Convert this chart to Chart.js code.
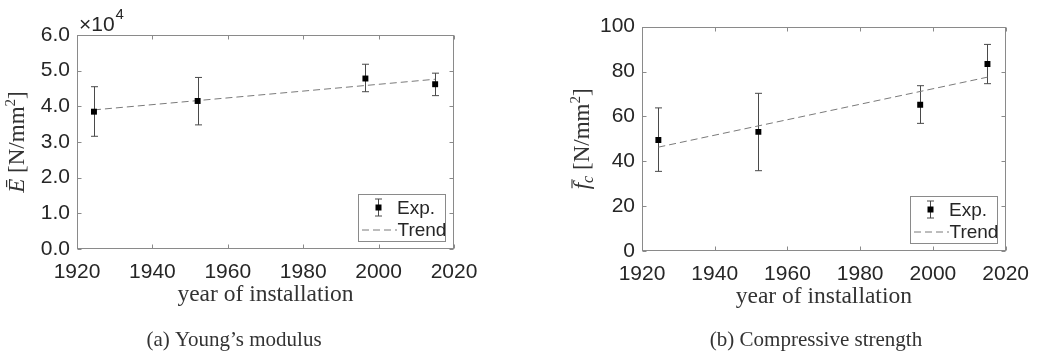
<!DOCTYPE html>
<html><head><meta charset="utf-8">
<script src="https://cdn.jsdelivr.net/npm/chart.js@4.4.1/dist/chart.umd.min.js"></script>
<style>
html,body{margin:0;padding:0;background:#fff;}
#wrap{position:relative;width:1040px;height:357px;overflow:hidden;background:#fff;}
canvas{position:absolute;top:0;}
</style></head><body>
<div id="wrap">
<canvas id="cA" width="520" height="357" style="left:0;width:520px;height:357px"></canvas>
<canvas id="cB" width="520" height="357" style="left:520px;width:520px;height:357px"></canvas>
</div>
<script>
// ---- data ----
const years = [1924.5, 1952, 1996.5, 2015];
const trendYears = [1924.5, 2015];
const xTicks = [1920, 1940, 1960, 1980, 2000, 2020];

const modulusMean = [38500, 41500, 47800, 46200];
const modulusLow = [31600, 34800, 44100, 43000];
const modulusHigh = [45500, 48100, 51800, 49300];
const modulusTrend = [39000, 47600];
const modulusTicks = [0, 10000, 20000, 30000, 40000, 50000, 60000];

const strengthMean = [49.5, 53.1, 65.2, 83.4];
const strengthLow = [35.5, 35.8, 56.9, 74.6];
const strengthHigh = [63.8, 70.3, 73.7, 92.1];
const strengthTrend = [46.3, 77.5];
const strengthTicks = [0, 20, 40, 60, 80, 100];

const legendLabels = ['Exp.', 'Trend'];
const xTitle = 'year of installation';
const captions = ['(a) Young\u2019s modulus', '(b) Compressive strength'];

// ---- styles ----
const SANS = '"Liberation Sans", Arial, sans-serif';
const SERIF = '"Liberation Serif", "Times New Roman", serif';
const TXT = '#262626';
const AXIS = '#8a8a8a';

function richText(ctx, segs, cx, cy, rot) {
  ctx.save();
  ctx.translate(cx, cy);
  if (rot) ctx.rotate(-Math.PI / 2);
  ctx.textAlign = 'left';
  ctx.textBaseline = 'alphabetic';
  let total = 0;
  segs.forEach(s => { ctx.font = s.font; s.w = ctx.measureText(s.t).width; total += s.w + (s.dx || 0); });
  let x0 = -total / 2;
  segs.forEach(s => {
    ctx.font = s.font;
    x0 += (s.dx || 0);
    ctx.fillText(s.t, x0, s.dy || 0);
    if (s.bar) {
      ctx.save();
      ctx.lineWidth = 1.1;
      ctx.strokeStyle = ctx.fillStyle;
      ctx.beginPath();
      ctx.moveTo(x0 + s.bar[0], s.bar[2]);
      ctx.lineTo(x0 + s.bar[1], s.bar[2]);
      ctx.stroke();
      ctx.restore();
    }
    x0 += s.w;
  });
  ctx.restore();
}

function makeChart(canvasId, cfg) {
  const W = 520, H = 357, XH = 40;
  const a = cfg.area;
  const decor = {
    id: 'decor',
    beforeDatasetsDraw(chart) {
      const { ctx, scales: { x, y } } = chart;
      ctx.save();
      ctx.strokeStyle = '#4a4a4a';
      ctx.lineWidth = 1;
      years.forEach((yr, i) => {
        const px = Math.round(x.getPixelForValue(yr)) + 0.5;
        const pl = y.getPixelForValue(cfg.low[i]);
        const ph = y.getPixelForValue(cfg.high[i]);
        ctx.beginPath();
        ctx.moveTo(px, pl); ctx.lineTo(px, ph);
        ctx.moveTo(px - 3.5, pl); ctx.lineTo(px + 3.5, pl);
        ctx.moveTo(px - 3.5, ph); ctx.lineTo(px + 3.5, ph);
        ctx.stroke();
      });
      ctx.restore();
    },
    afterDatasetsDraw(chart) {
      const { ctx, chartArea: c, scales: { x, y } } = chart;
      ctx.save();
      ctx.strokeStyle = AXIS;
      ctx.lineWidth = 1;
      const L = Math.round(c.left) + 0.5, R = Math.round(c.right) - 0.5;
      const T = Math.round(c.top) + 0.5, B = Math.round(c.bottom) - 0.5;
      ctx.strokeRect(L, T, R - L, B - T);
      ctx.beginPath();
      const tk = 4;
      x.ticks.forEach(t => {
        const px = Math.round(x.getPixelForValue(t.value)) + 0.5;
        ctx.moveTo(px, B); ctx.lineTo(px, B - tk);
        ctx.moveTo(px, T); ctx.lineTo(px, T + tk);
      });
      y.ticks.forEach(t => {
        const py = Math.round(y.getPixelForValue(t.value)) + 0.5;
        ctx.moveTo(L, py); ctx.lineTo(L + tk, py);
        ctx.moveTo(R, py); ctx.lineTo(R - tk, py);
      });
      ctx.stroke();
      ctx.restore();
    },
    afterDraw(chart) {
      const { ctx, chartArea: c } = chart;
      ctx.save();
      // legend
      const bw = 87, bh = 47;
      const bx = Math.round(c.right - 9 - bw) + 0.5, by = Math.round(c.bottom - 8.5 - bh) + 0.5;
      ctx.fillStyle = '#fff';
      ctx.fillRect(bx, by, bw, bh);
      ctx.strokeStyle = AXIS;
      ctx.lineWidth = 1;
      ctx.strokeRect(bx, by, bw, bh);
      const mx = Math.round(bx + 19.5) + 0.5, my = by + 13;
      ctx.strokeStyle = '#4a4a4a';
      ctx.beginPath();
      ctx.moveTo(mx, my - 8.5); ctx.lineTo(mx, my + 8.5);
      ctx.moveTo(mx - 3.5, my - 8.5); ctx.lineTo(mx + 3.5, my - 8.5);
      ctx.moveTo(mx - 3.5, my + 8.5); ctx.lineTo(mx + 3.5, my + 8.5);
      ctx.stroke();
      ctx.fillStyle = '#000';
      ctx.fillRect(mx - 3, my - 3, 6, 6);
      ctx.strokeStyle = '#7a7a7a';
      ctx.setLineDash([7, 4]);
      ctx.beginPath();
      ctx.moveTo(bx + 3.5, by + 35.5); ctx.lineTo(bx + 38.5, by + 35.5);
      ctx.stroke();
      ctx.setLineDash([]);
      ctx.fillStyle = TXT;
      ctx.font = '19px ' + SANS;
      ctx.textAlign = 'left';
      ctx.textBaseline = 'middle';
      ctx.fillText(legendLabels[0], bx + 38.5, by + 14.5);
      ctx.fillText(legendLabels[1], bx + 39, by + 36);
      // x title
      ctx.fillStyle = '#333';
      ctx.font = '23.5px ' + SERIF;
      ctx.textAlign = 'center';
      ctx.fillText(xTitle, (c.left + c.right) / 2, cfg.xTitleY);
      // caption
      ctx.font = '21px ' + SERIF;
      ctx.fillText(cfg.caption, cfg.captionX, 340);
      // y title
      ctx.fillStyle = '#333';
      richText(ctx, cfg.yTitle, cfg.yTitleX, (c.top + c.bottom) / 2, true);
      if (cfg.extra) cfg.extra(ctx, c);
      ctx.restore();
    }
  };

  return new Chart(document.getElementById(canvasId), {
    type: 'scatter',
    data: {
      datasets: [
        {
          label: legendLabels[0],
          data: years.map((yr, i) => ({ x: yr, y: cfg.mean[i] })),
          pointStyle: 'rect',
          pointRadius: 4.2,
          pointBackgroundColor: '#000',
          pointBorderColor: '#000',
          pointBorderWidth: 0,
          showLine: false,
          order: 0
        },
        {
          label: legendLabels[1],
          type: 'line',
          data: trendYears.map((yr, i) => ({ x: yr, y: cfg.trend[i] })),
          borderColor: '#7a7a7a',
          borderWidth: 1,
          borderDash: [7, 4],
          pointRadius: 0,
          fill: false,
          order: 1
        }
      ]
    },
    options: {
      responsive: false,
      animation: false,
      devicePixelRatio: 1,
      layout: { padding: { left: 0, top: a.top, right: W - a.right, bottom: H - a.bottom - XH } },
      plugins: { legend: { display: false }, tooltip: { enabled: false } },
      scales: {
        x: {
          type: 'linear', min: 1920, max: 2020,
          afterBuildTicks: s => { s.ticks = xTicks.map(v => ({ value: v })); },
          afterFit: s => { s.height = XH; },
          grid: { display: false, drawTicks: false },
          border: { display: false },
          ticks: { font: { family: SANS, size: 21 }, color: TXT, padding: 11, maxRotation: 0, autoSkip: false, callback: v => String(v) }
        },
        y: {
          type: 'linear', min: cfg.yTicks[0], max: cfg.yTicks[cfg.yTicks.length - 1],
          afterBuildTicks: s => { s.ticks = cfg.yTicks.map(v => ({ value: v })); },
          afterFit: s => { s.width = a.left; },
          grid: { display: false, drawTicks: false },
          border: { display: false },
          ticks: { font: { family: SANS, size: 21 }, color: TXT, padding: 7, callback: cfg.tickFmt, autoSkip: false }
        }
      }
    },
    plugins: [decor]
  });
}

const sFont = 'italic 23px ' + SERIF;
const rFont = '23px ' + SERIF;
const supFont = '15px ' + SERIF;

makeChart('cA', {
  area: { left: 77, right: 454, top: 35, bottom: 249 },
  mean: modulusMean, low: modulusLow, high: modulusHigh, trend: modulusTrend,
  yTicks: modulusTicks,
  tickFmt: v => (v / 10000).toFixed(1),
  xTitleY: 295, caption: captions[0], captionX: 234,
  yTitleX: 24,
  yTitle: [
    { t: '\u0112', font: sFont },
    { t: ' [N/mm', font: rFont },
    { t: '2', font: supFont, dy: -9 },
    { t: ']', font: rFont }
  ],
  extra: (ctx, c) => {
    ctx.fillStyle = TXT;
    ctx.textAlign = 'left';
    ctx.textBaseline = 'alphabetic';
    ctx.font = '21px ' + SANS;
    ctx.fillText('\u00d710', 79, 31);
    const w = ctx.measureText('\u00d710').width;
    ctx.font = '15px ' + SANS;
    ctx.fillText('4', 79 + w + 1, 19);
  }
});

makeChart('cB', {
  area: { left: 122, right: 493.3, top: 26.7, bottom: 251 },
  mean: strengthMean, low: strengthLow, high: strengthHigh, trend: strengthTrend,
  yTicks: strengthTicks,
  tickFmt: v => String(v),
  xTitleY: 297, caption: captions[1], captionX: 296,
  yTitleX: 69,
  yTitle: [
    { t: 'f', font: sFont, bar: [1, 10, -17] },
    { t: 'c', font: 'italic 16px ' + SERIF, dy: 4 },
    { t: ' [N/mm', font: rFont },
    { t: '2', font: supFont, dy: -9 },
    { t: ']', font: rFont }
  ]
});
</script>
</body></html>
